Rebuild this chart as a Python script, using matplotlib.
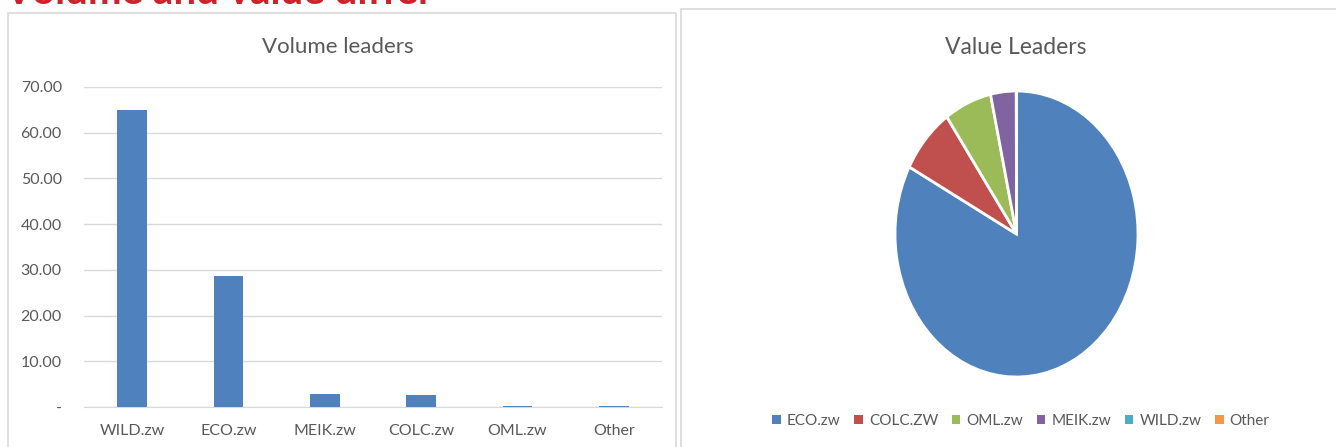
import matplotlib.pyplot as plt
from matplotlib.patches import Rectangle, Patch

plt.rcParams["font.family"] = ["Lato", "DejaVu Sans"]

W, H = 1336, 447

# volume leaders (bar chart)
vol_names = ["WILD.zw", "ECO.zw", "MEIK.zw", "COLC.zw", "OML.zw", "Other"]
vol_values = [64.9, 28.7, 2.9, 2.7, 0.3, 0.3]
vol_ticks = [0, 10, 20, 30, 40, 50, 60, 70]

# value leaders (pie chart), share in %
val_names = ["ECO.zw", "COLC.ZW", "OML.zw", "MEIK.zw", "WILD.zw", "Other"]
val_shares = [82.8, 7.5, 6.3, 3.4, 0.02, 0.01]
val_colors = ["#4f81bd", "#c0504d", "#9bbb59", "#8064a2", "#4bacc6", "#f79646"]

text_col = "#595959"
grid_col = "#d9d9d9"


def px(x0, y_top, x1, y_bot):
    # pixel box -> figure fraction [left, bottom, width, height]
    return [x0 / W, 1 - y_bot / H, (x1 - x0) / W, (y_bot - y_top) / H]


fig = plt.figure(figsize=(W / 100, H / 100), dpi=100)
fig.patch.set_facecolor("white")

# panel frames
fig.patches.append(Rectangle((8 / W, -0.05), 668 / W, 1.05 - 13 / H,
                             transform=fig.transFigure, fill=False,
                             edgecolor=grid_col, linewidth=1.2))
fig.patches.append(Rectangle((681 / W, -0.05), 700 / W, 1.05 - 9 / H,
                             transform=fig.transFigure, fill=False,
                             edgecolor=grid_col, linewidth=1.2))

# slide heading, cut off by the top edge as in the screenshot
fig.text(4 / W, 1 - 4.5 / H, "Volume and value differ", color="#d0202a",
         fontsize=29, fontweight="bold", ha="left", va="baseline")

# ---- bar chart
ax = fig.add_axes(px(84, 87, 662, 407))
x = range(len(vol_names))
ax.bar(x, vol_values, width=0.31, color="#4f81bd", zorder=3)
ax.set_xlim(-0.5, len(vol_names) - 0.5)
ax.set_ylim(0, 70)
ax.set_yticks(vol_ticks)
ax.set_yticklabels(["-"] + [f"{v:.2f}" for v in vol_ticks[1:]])
ax.set_xticks(list(x))
ax.set_xticklabels(vol_names)
ax.grid(axis="y", color=grid_col, linewidth=1, zorder=0)
for s in ["top", "right", "left"]:
    ax.spines[s].set_visible(False)
ax.spines["bottom"].set_color(grid_col)
ax.tick_params(axis="both", length=0, colors=text_col, labelsize=11.5)
ax.tick_params(axis="y", pad=16)
ax.tick_params(axis="x", pad=12)
fig.text(338 / W, 1 - 47 / H, "Volume leaders", ha="center", va="center",
         fontsize=16, color=text_col)

# ---- pie chart (drawn as ellipse like the original)
ax2 = fig.add_axes(px(895, 91, 1138, 377))
ax2.pie(val_shares, colors=val_colors, startangle=90, counterclock=False,
        wedgeprops=dict(edgecolor="white", linewidth=2))
ax2.set_aspect("auto")
ax2.set_xlim(-1, 1)
ax2.set_ylim(-1, 1)
ax2.axis("off")
fig.text(1016 / W, 1 - 47 / H, "Value Leaders", ha="center", va="center",
         fontsize=16.5, color=text_col)

handles = [Patch(facecolor=c, edgecolor="none") for c in val_colors]
fig.legend(handles, val_names, loc="center", ncol=6, frameon=False,
           bbox_to_anchor=(1021 / W, 1 - 421 / H), fontsize=11,
           labelcolor=text_col, handlelength=0.55, handleheight=0.55,
           handletextpad=0.4, columnspacing=0.9)

fig.savefig("out.png", dpi=100)
